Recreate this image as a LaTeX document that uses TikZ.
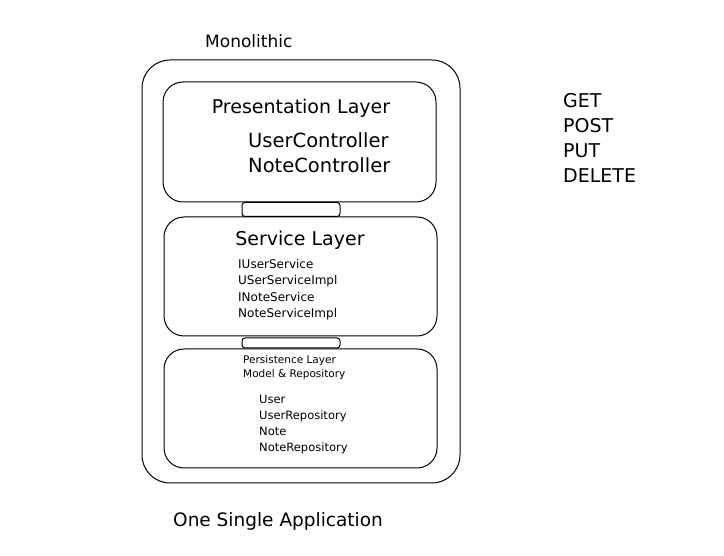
\documentclass[tikz,border=0pt]{standalone}
\usepackage{fontspec}
\setmainfont{DejaVu Sans}
\usetikzlibrary{positioning}
\tikzset{
	layer/.style={draw, line width=1pt, rounded corners=20pt, minimum width=273pt, minimum height=119pt},
	link/.style={draw, line width=1pt, rounded corners=3pt, minimum width=98pt},
	txt/.style={inner sep=0pt, align=left, anchor=north west}
}
\begin{document}
\begin{tikzpicture}[x=1pt, y=-1pt]
	\useasboundingbox (0, 0) rectangle (724, 556);

	\node[draw, line width=1pt, rounded corners=28pt, minimum width=318pt, minimum height=423pt] (app) at (301, 271.5) {};
	\node[txt, font=\fontsize{17}{20}\selectfont] (mono) at (205, 34) {Monolithic};

	\node[layer, minimum height=120pt] (pres) at (299.5, 142) {};
	\node[font=\fontsize{19}{22}\selectfont] (presname) at (301, 108) {Presentation Layer};
	\node[txt, font=\fontsize{19.5}{25}\selectfont] (ctrl) at (248, 132) {UserController\\NoteController};

	\node[layer] (serv) at (300.5, 276.5) {};
	\node[font=\fontsize{19}{22}\selectfont] (servname) at (300, 240) {Service Layer};
	\node[txt, font=\fontsize{12}{16.5}\selectfont] (servlist) at (238, 259) {IUserService\\USerServiceImpl\\INoteService\\NoteServiceImpl};

	\node[layer] (pers) at (300.5, 408.5) {};
	\node[txt, font=\fontsize{10.5}{14}\selectfont] (persname) at (243, 355) {Persistence Layer\\Model \& Repository};
	\node[txt, font=\fontsize{11.5}{16}\selectfont] (perslist) at (259, 395) {User\\UserRepository\\Note\\NoteRepository};

	\node[link, minimum height=14pt] (link1) at (291, 209.5) {};
	\node[link, minimum height=10pt] (link2) at (291, 343) {};

	\node[txt, font=\fontsize{18.5}{20}\selectfont] (app name) at (173, 512) {One Single Application};
	\node[txt, font=\fontsize{19}{25}\selectfont] (verbs) at (563, 93) {GET\\POST\\PUT\\DELETE};
\end{tikzpicture}
\end{document}
